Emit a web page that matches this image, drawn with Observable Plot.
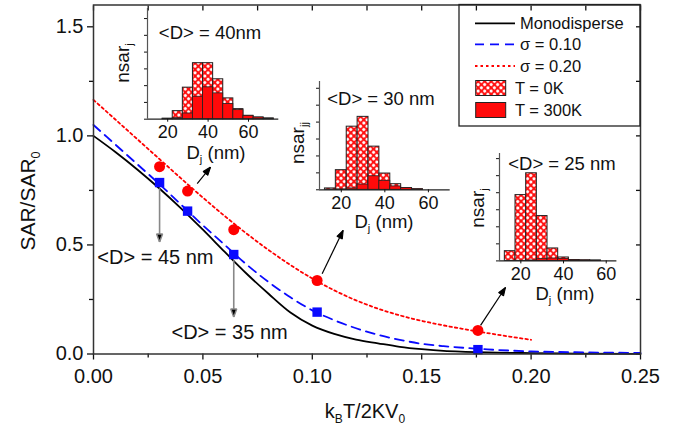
<!DOCTYPE html>
<html><head><meta charset="utf-8">
<script src="https://cdn.jsdelivr.net/npm/d3@7"></script>
<script src="https://cdn.jsdelivr.net/npm/@observablehq/plot@0.6"></script>
<style>
body{margin:0;background:#fff;}
#wrap{position:relative;width:693px;height:435px;overflow:hidden;font-family:"Liberation Sans",Arial,Helvetica,sans-serif;color:#111;}
#wrap svg{position:absolute;overflow:visible;}
.lbl{position:absolute;white-space:nowrap;line-height:1;}
.lbl sub{font-size:0.6em;vertical-align:baseline;position:relative;top:0.38em;}
</style></head><body>
<svg width="0" height="0" style="position:absolute">
<defs>
<pattern id="hatch" width="4.6" height="4.6" patternUnits="userSpaceOnUse" patternTransform="rotate(45)">
<rect width="4.6" height="4.6" fill="#ff1010"/>
<circle cx="2.3" cy="2.3" r="1.55" fill="#fff"/>
</pattern>
</defs></svg>
<div id="wrap"></div>
<script>
const FONT = '"Liberation Sans", Arial, Helvetica, sans-serif';

// ---- main axis ticks ----
const xMajor = [0, 0.05, 0.10, 0.15, 0.20, 0.25];
const xMinor = [0.025, 0.075, 0.125, 0.175, 0.225];
const yMajor = [0, 0.5, 1.0, 1.5];
const yMinor = [0.25, 0.75, 1.25];

// ---- curves ----
const curveX  = [0,0.01,0.02,0.03,0.04,0.05,0.06,0.07,0.08,0.09,0.10,0.11,0.12,0.13,0.14,0.15,0.16,0.17,0.18,0.20,0.22,0.25];
const monoY   = [1.0,0.926,0.846,0.760,0.668,0.570,0.468,0.368,0.276,0.19,0.13,0.092,0.066,0.049,0.033,0.022,0.014,0.010,0.007,0.004,0.002,0.001];
const sigma10Y= [1.05,0.96,0.87,0.78,0.685,0.59,0.50,0.41,0.33,0.26,0.20,0.155,0.118,0.088,0.065,0.047,0.036,0.028,0.021,0.012,0.008,0.005];
const sigma20X= [0,0.01,0.02,0.03,0.04,0.05,0.06,0.07,0.08,0.09,0.10,0.11,0.12,0.13,0.14,0.15,0.16,0.17,0.18,0.19,0.20];
const sigma20Y= [1.165,1.075,0.985,0.895,0.805,0.717,0.632,0.552,0.477,0.408,0.346,0.292,0.246,0.208,0.177,0.152,0.131,0.113,0.096,0.08,0.065];

// ---- simulated points (<D> = 45, 40, 35, 30, 25 nm) ----
const pointX  = [0.0302,0.0430,0.0641,0.1022,0.1757];
const sarS10  = [0.786,0.655,0.456,0.192,0.02];
const sarS20  = [0.859,0.747,0.57,0.337,0.108];

// ---- annotations ----
const vArrowX  = [0.0302,0.0641];
const vArrowY1 = [0.76,0.43];
const vArrowY2 = [0.513,0.169];
const dArrowX1 = [0.0474,0.1045,0.1769];
const dArrowY1 = [0.781,0.368,0.131];
const dArrowX2 = [0.0535,0.1141,0.1883];
const dArrowY2 = [0.857,0.567,0.305];
const annotText= ["<D> = 45 nm","<D> = 35 nm"];
const annotX   = [0.0283,0.0622];
const annotY   = [0.443,0.10];

// ---- inset histograms ----
const bins40   = [20,25,30,35,40,45,50,55,60,65,70];
const t0_40    = [0.03,0.48,1.88,3.34,3.34,2.38,1.24,0.6,0.2,0.1,0.04];
const t300_40  = [0.02,0.06,0.34,1.34,1.9,1.54,0.9,0.54,0.2,0.1,0.04];
const bins30   = [15,20,25,30,35,40,45,50,55];
const t0_30    = [0.08,1.16,3.73,4.31,2.55,0.96,0.33,0.1,0.03];
const t300_30  = [0,0.02,0.08,0.31,0.8,0.53,0.2,0.1,0.03];
const bins25   = [15,20,25,30,35,40,45,50,55];
const t0_25    = [0.57,3.86,5.14,2.63,0.73,0.2,0.05,0.03,0.02];
const t300_25  = [0,0,0.02,0.1,0.14,0.12,0.05,0.03,0.02];
const insetTitles = ["<D> = 40nm","<D> = 30 nm","<D> = 25 nm"];
const insetXTicks = [20,40,60];

const wrap = document.getElementById("wrap");
const fmt2 = d3.format(".2f"), fmt1 = d3.format(".1f"), none = () => "";

// filled triangular arrow head
function triHead() {
  const m = d3.create("svg:marker")
    .attr("viewBox", "-5 -5 10 10")
    .attr("markerWidth", 9).attr("markerHeight", 9)
    .attr("markerUnits", "userSpaceOnUse")
    .attr("refX", 5).attr("refY", 0)
    .attr("orient", "auto");
  m.append("path").attr("d", "M-4,-3.3L5,0L-4,3.3Z").attr("fill", "#000");
  return m.node();
}

const main = Plot.plot({
  width: 693, height: 435,
  marginLeft: 93, marginRight: 53, marginTop: 4.5, marginBottom: 81.5,
  x: {domain: [0, 0.25]},
  y: {domain: [0, 1.6]},
  style: {background: "transparent", fontFamily: FONT, fontSize: "20px", color: "#111"},
  marks: [
    Plot.line(curveX, {x: curveX, y: monoY, stroke: "#000", strokeWidth: 1.8, curve: "monotone-x"}),
    Plot.line(curveX, {x: curveX, y: sigma10Y, stroke: "#0a0aff", strokeWidth: 1.8, strokeDasharray: "9,6", curve: "monotone-x"}),
    Plot.line(sigma20X, {x: sigma20X, y: sigma20Y, stroke: "#ff0000", strokeWidth: 1.8, strokeDasharray: "2.5,3", curve: "monotone-x"}),
    Plot.link(vArrowX, {x1: vArrowX, x2: vArrowX, y1: vArrowY1, y2: vArrowY2, stroke: "#888", strokeWidth: 1.6, markerEnd: triHead}),
    Plot.link(dArrowX1, {x1: dArrowX1, y1: dArrowY1, x2: dArrowX2, y2: dArrowY2, stroke: "#000", strokeWidth: 1.2, markerEnd: triHead}),
    Plot.dot(pointX, {x: pointX, y: sarS10, symbol: "square", r: 5.3, fill: "#0a0aff"}),
    Plot.dot(pointX, {x: pointX, y: sarS20, r: 5.5, fill: "#ff0000"}),
    Plot.text(annotText, {x: annotX, y: annotY, text: d => d, fontSize: 20, fill: "#111"}),
    Plot.axisX({ticks: xMajor, tickFormat: fmt2, tickSize: 6, tickPadding: 9, label: null, strokeWidth: 1.3}),
    Plot.axisX({ticks: xMinor, tickFormat: none, tickSize: 4, label: null, strokeWidth: 1.3}),
    Plot.axisX({anchor: "top", ticks: [...xMajor, ...xMinor], tickFormat: none, tickSize: -5, label: null, strokeWidth: 1.3}),
    Plot.axisY({ticks: yMajor, tickFormat: fmt1, tickSize: 6, tickPadding: 4, label: null, strokeWidth: 1.3}),
    Plot.axisY({ticks: yMinor, tickFormat: none, tickSize: 4, label: null, strokeWidth: 1.3}),
    Plot.axisY({anchor: "right", ticks: [...yMajor, ...yMinor], tickFormat: none, tickSize: -5, label: null, strokeWidth: 1.3}),
    Plot.frame({stroke: "#333", strokeWidth: 1.5})
  ]
});
main.style.left = "0px"; main.style.top = "0px";
wrap.appendChild(main);

function inset(bins, t0, t300, xMax, yMax, left, top, right, bottom) {
  const mL = 30, mR = 12, mT = 10, mB = 30;
  const rows = bins.map((b, i) => ({b, t0: t0[i], t300: t300[i]}));
  const svg = Plot.plot({
    width: right - left + mL + mR, height: bottom - top + mT + mB,
    marginLeft: mL, marginRight: mR, marginTop: mT, marginBottom: mB,
    x: {domain: [10, xMax]}, y: {domain: [0, yMax]},
    style: {background: "transparent", fontFamily: FONT, fontSize: "18px", color: "#111"},
    marks: [
      Plot.rectY(rows, {x1: d => d.b - 2.5, x2: d => d.b + 2.5, y: "t0", fill: "url(#hatch)", stroke: "#222", strokeWidth: 1}),
      Plot.rectY(rows.filter(d => d.t300 > 0), {x1: d => d.b - 2.5, x2: d => d.b + 2.5, y: "t300", fill: "#ff0a0a", stroke: "#222", strokeWidth: 0.8}),
      Plot.ruleY([0], {stroke: "#222", strokeWidth: 1.3}),
      Plot.ruleX([10], {stroke: "#555", strokeWidth: 1.2}),
      Plot.axisY({ticks: d3.range(0, Math.floor(yMax) + 1), tickFormat: none, tickSize: 3, label: null}),
      Plot.axisX({ticks: insetXTicks, tickSize: 3, tickPadding: 3, label: null})
    ]
  });
  svg.style.left = (left - mL) + "px";
  svg.style.top = (top - mT) + "px";
  wrap.appendChild(svg);
}
inset(bins40, t0_40, t300_40, 75, 6.6, 146.7, 8.3, 278, 119);
inset(bins30, t0_30, t300_30, 70, 6.4, 319.3, 80.7, 450, 189);
inset(bins25, t0_25, t300_25, 65, 6.3, 499.3, 153.3, 616.7, 260.7);

function label(content, cx, cy, size, rot, isHtml) {
  const d = document.createElement("div");
  d.className = "lbl";
  if (isHtml) d.innerHTML = content; else d.textContent = content;
  d.style.left = cx + "px"; d.style.top = cy + "px"; d.style.fontSize = size + "px";
  d.style.transform = `translate(-50%,-50%) rotate(${rot}deg)`;
  wrap.appendChild(d);
}
// main axis labels
label("SAR/SAR<sub>0</sub>", 27, 201, 21, -90, true);
label("k<sub>B</sub>T/2KV<sub>0</sub>", 365, 411, 20, 0, true);
// inset titles and labels
label(insetTitles[0], 210, 33, 18.5, 0, false);
label(insetTitles[1], 381, 99, 18.5, 0, false);
label(insetTitles[2], 562, 164, 18.5, 0, false);
label("nsar<sub>j</sub>", 122, 63, 19, -90, true);
label("nsar<sub>jj</sub>", 297, 143, 19, -90, true);
label("nsar<sub>j</sub>", 477, 208, 19, -90, true);
label("D<sub>j</sub> (nm)", 216, 153, 18.5, 0, true);
label("D<sub>j</sub> (nm)", 384, 222, 18.5, 0, true);
label("D<sub>j</sub> (nm)", 565, 294, 18.5, 0, true);

// legend
const legendLines = [
  {text: "Monodisperse", stroke: "#000", dash: null, cy: 23.3},
  {text: "\u03c3 = 0.10", stroke: "#0a0aff", dash: "9,6", cy: 44.3},
  {text: "\u03c3 = 0.20", stroke: "#ff0000", dash: "2.5,3", cy: 66}
];
const legendBars = [
  {text: "T = 0K", fill: "url(#hatch)", cy: 88},
  {text: "T = 300K", fill: "#ff0a0a", cy: 110}
];
const leg = d3.select(wrap).append("svg").attr("width", 693).attr("height", 435)
  .style("left", "0px").style("top", "0px").style("font-family", FONT);
leg.append("rect").attr("x", 459).attr("y", 4.5).attr("width", 181).attr("height", 121.5)
  .attr("fill", "none").attr("stroke", "#222").attr("stroke-width", 1.3);
for (const e of legendLines) {
  leg.append("line").attr("x1", 475).attr("x2", 515).attr("y1", e.cy).attr("y2", e.cy)
    .attr("stroke", e.stroke).attr("stroke-width", 1.8).attr("stroke-dasharray", e.dash);
  leg.append("text").attr("x", 520).attr("y", e.cy).attr("dy", "0.35em").attr("font-size", 16.5)
    .attr("fill", "#111").text(e.text);
}
for (const e of legendBars) {
  leg.append("rect").attr("x", 475.7).attr("y", e.cy - 7.5).attr("width", 30).attr("height", 15)
    .attr("fill", e.fill).attr("stroke", "#222").attr("stroke-width", 1);
  leg.append("text").attr("x", 515).attr("y", e.cy).attr("dy", "0.35em").attr("font-size", 16.5)
    .attr("fill", "#111").text(e.text);
}
</script></body></html>
